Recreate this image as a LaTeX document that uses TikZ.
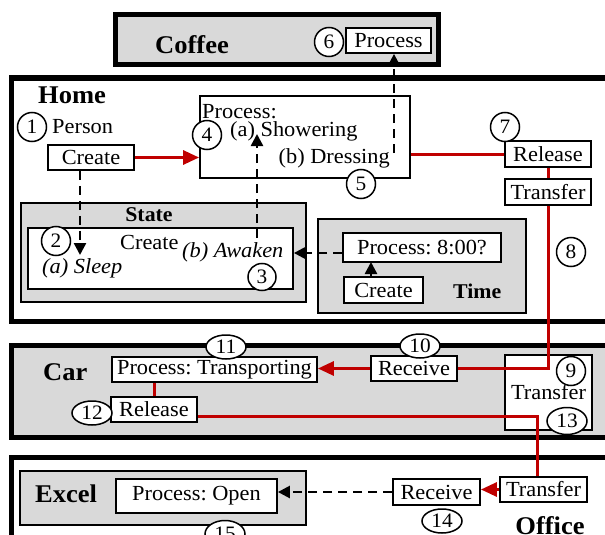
\documentclass[tikz,border=0pt]{standalone}
\usepackage{fontspec}
\setmainfont[FakeStretch=1.04]{Liberation Serif}
\usepackage{tikz}
\usetikzlibrary{calc,shapes.geometric,arrows.meta}
\frenchspacing

\definecolor{arrowred}{HTML}{C00000}
\definecolor{panelgray}{HTML}{D9D9D9}

\tikzset{
	lbl/.style={inner sep=0pt, font=\fontsize{21.5}{25}\selectfont},
	itlbl/.style={inner sep=0pt, font=\fontsize{21.5}{25}\selectfont\itshape},
	bigname/.style={inner sep=0pt, font=\fontsize{25.5}{30}\selectfont\bfseries},
	smallname/.style={inner sep=0pt, font=\fontsize{21}{25}\selectfont\bfseries},
	box/.style={draw, fill=white, line width=1.8pt, inner sep=0pt, font=\fontsize{21.5}{25}\selectfont},
	num/.style={ellipse, draw, fill=white, line width=1.5pt, inner sep=0pt, minimum width=29pt, minimum height=29pt, font=\fontsize{20.5}{24}\selectfont},
	wnum/.style={num, minimum width=40pt, minimum height=24pt},
	frame/.style={line width=5pt},
	panel/.style={draw, fill=panelgray, line width=1.8pt},
	redline/.style={draw=arrowred, line width=3pt},
	redarrow/.style={redline, -{Triangle[length=16pt,width=14pt]}},
	dasharrow/.style={line width=2.5pt, dash pattern=on 9pt off 6pt, -{Triangle[length=12pt,width=12pt]}},
	solidarrow/.style={line width=2.5pt, -{Triangle[length=12pt,width=12pt]}},
}

\begin{document}
\begin{tikzpicture}[x=1pt,y=-1pt]
			%%%%% START %%%%%
			\useasboundingbox (0,0) rectangle (605,535);
			\clip (0,0) rectangle (605,535);
			
			% frames
			\draw[frame, fill=panelgray] (115,15) rectangle (438,65);
			\draw[frame, fill=white] (11,78) rectangle (630,321);
			\draw[frame, fill=panelgray] (11,345) rectangle (630,437);
			\draw[frame, fill=white] (11,457) rectangle (630,560);
			
			\draw[panel] (21,203) rectangle (306,302);
			\draw[panel] (318,219) rectangle (526,313);
			\draw[panel] (20,471) rectangle (306,525);
			
			% names
			\node[bigname, anchor=west] (coffee) at (155,45) {Coffee};
			\node[bigname, anchor=west] (home) at (38,95) {Home};
			\node[lbl, anchor=west] (person) at (52,127) {Person};
			\node[smallname] (state) at (149,215) {State};
			\node[smallname, anchor=west] (time) at (453,291) {Time};
			\node[bigname, anchor=west] (car) at (43,372) {Car};
			\node[bigname, anchor=west] (excel) at (35,494) {Excel};
			\node[bigname] (office) at (550,526) {Office};
			
			% coffee
			\node[box, minimum width=85pt, minimum height=25pt] (cofproc) at (388.5,40.5) {Process};
			
			% home
			\node[box, minimum width=86pt, minimum height=25pt] (create1) at (91,157.5) {Create};
			\node[box, minimum width=210pt, minimum height=82pt] (proc4) at (305,137) {};
			\node[lbl, anchor=west] (proclbl) at (202,112) {Process:};
			\node[lbl, anchor=west] (shower) at (230,131) {(a) Showering};
			\node[lbl, anchor=east] (dress) at (390,158) {(b) Dressing};
			\node[box, minimum width=86pt, minimum height=26pt] (rel7) at (548,154) {Release};
			\node[box, minimum width=86pt, minimum height=26pt] (tr7) at (548,192) {Transfer};
			
			\node[box, minimum width=265pt, minimum height=61pt] (stateinner) at (160.5,258.5) {};
			\node[lbl, anchor=west] (stcreate) at (120,242) {Create};
			\node[itlbl, anchor=west] (awaken) at (182,252) {(b) Awaken};
			\node[itlbl, anchor=west] (sleep) at (42,268) {(a) Sleep};
			
			\node[box, minimum width=158pt, minimum height=29pt] (proc800) at (422,247.5) {Process: 8:00?};
			\node[box, minimum width=79pt, minimum height=26pt] (tcreate) at (383.5,290) {Create};
			
			% car
			\node[box, minimum width=205pt, minimum height=25pt] (transp) at (214.5,369.5) {Process: Transporting};
			\node[box, minimum width=86pt, minimum height=25pt] (rec10) at (414,368.5) {Receive};
			\node[box, minimum width=86pt, minimum height=25pt] (rel12) at (154,409.5) {Release};
			\node[box, minimum width=87pt, minimum height=75pt] (trcar) at (548.5,392.5) {Transfer};
			
			% office
			\node[box, minimum width=161pt, minimum height=34pt] (procopen) at (196.5,496) {Process: Open};
			\node[box, minimum width=87pt, minimum height=26pt] (rec14) at (436.5,492) {Receive};
			\node[box, minimum width=87pt, minimum height=25pt] (trof) at (543.5,489.5) {Transfer};
			
			% helper points
			\coordinate (dressup) at (394,153);
			\coordinate (sleeptip) at (80,255);
			\coordinate (awakenfoot) at (257,238);
			\coordinate (showtip) at (257,134);
			\coordinate (timedash) at (318,253);
			\coordinate (timeup) at (371,262);
			\coordinate (bend) at (537,416);
			
			% red links
			\draw[redarrow] (create1.east) -- (create1.east -| proc4.west);
			\draw[redline] (proc4.east |- rel7.west) -- (rel7.west);
			\draw[redline] (rel7.south) -- (tr7.north);
			\draw[redline] (tr7.south) |- (rec10.east);
			\draw[redarrow] (rec10.west) -- (rec10.west -| transp.east);
			\draw[redline] (transp.south -| rel12.north) -- (rel12.north);
			\draw[redline] (rel12.east |- bend) -- (bend) -- (bend |- trof.north);
			\draw[redarrow] (trof.west) -- (trof.west -| rec14.east);
			
			% dashed links
			\draw[dasharrow] (dressup) -- (dressup |- cofproc.south);
			\draw[dasharrow] (create1.south -| sleeptip) -- (sleeptip);
			\draw[dasharrow] (awakenfoot) -- (showtip);
			\draw[dasharrow] (timedash -| proc800.west) -- (timedash -| stateinner.east);
			\draw[dasharrow] (rec14.west) -- (rec14.west -| procopen.east);
			\draw[solidarrow] (timeup |- tcreate.north) -- (timeup);
			
			% numbers
			\node[num] (n1) at (32,127) {1};
			\node[num] (n2) at (56,241) {2};
			\node[num, minimum width=28pt, minimum height=27pt] (n3) at (262,277) {3};
			\node[num] (n4) at (207,135) {4};
			\node[num] (n5) at (361,184) {5};
			\node[num] (n6) at (329,42) {6};
			\node[num] (n7) at (505,127) {7};
			\node[num] (n8) at (571,252) {8};
			\node[num] (n9) at (571,371) {9};
			\node[wnum] (n10) at (420,346) {10};
			\node[wnum] (n11) at (226,347) {11};
			\node[wnum] (n12) at (92,413) {12};
			\node[wnum, minimum height=27pt] (n13) at (567,421) {13};
			\node[wnum] (n14) at (442,521) {14};
			\node[wnum, minimum height=27pt] (n15) at (225,534) {15};
			
			%%%%% END %%%%%
\end{tikzpicture}
\end{document}
